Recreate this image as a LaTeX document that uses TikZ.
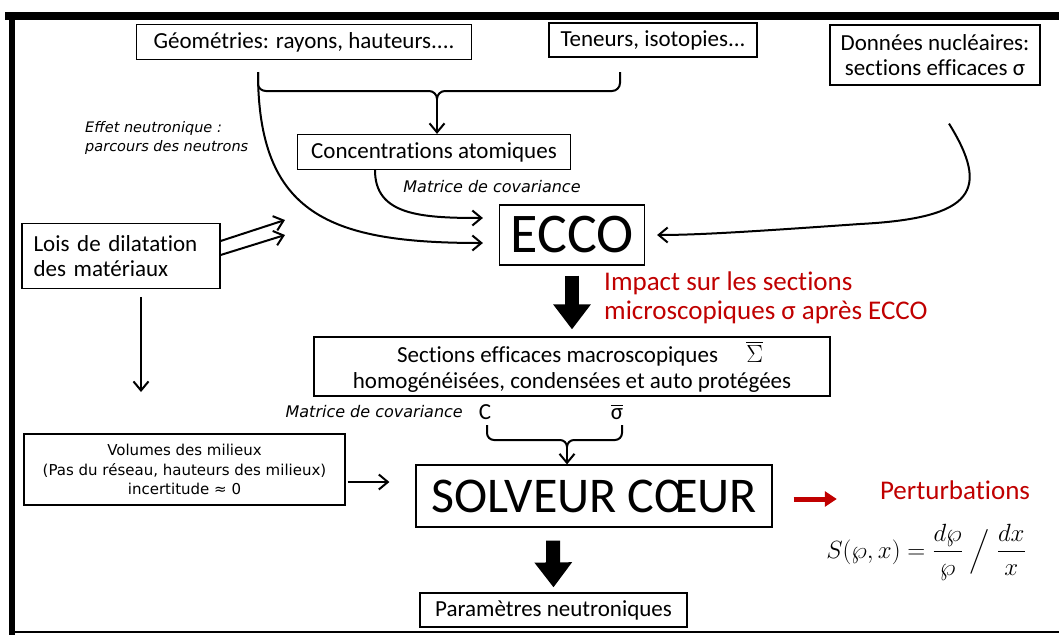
\documentclass[tikz,border=0pt]{standalone}
\usepackage{fontspec}
\usepackage{amsmath}
\setmainfont{Carlito}[Ligatures=CommonOff]
\newfontfamily\labelfont{DejaVu Sans}
\usetikzlibrary{arrows.meta, positioning}
\definecolor{impact}{HTML}{C00000}

\begin{document}
\begin{tikzpicture}[x=1pt, y=-1pt, font=\fontsize{23}{25.5}\selectfont,
    box/.style={draw, line width=1.2pt, inner sep=0pt, align=center},
    note/.style={font=\labelfont\itshape\fontsize{14.5}{19}\selectfont, align=left, inner sep=0pt},
    imp/.style={text=impact, font=\fontsize{27}{29}\selectfont, inner sep=0pt},
    flow/.style={line width=2pt, -{Straight Barb[length=9pt, width=15pt]}},
    fat/.style={line width=14pt, -{Triangle[length=25pt, width=36pt]}}]

  \useasboundingbox (0,0) rectangle (1059,635);
  % frame
  \fill (5,12) rectangle (1059,20);
  \fill (9,12) rectangle (15,635);
  \draw[line width=1.5pt] (9,632) -- (1059,632);

  % boxes
  \node[box, minimum width=335, minimum height=35] (geo) at (304,42) {Géométries: rayons, hauteurs....};
  \node[box, minimum width=208, minimum height=34] (ten) at (653,40) {Teneurs, isotopies...};
  \node[box, minimum width=210, minimum height=60] (don) at (935,55) {Données nucléaires:\\sections efficaces σ};
  \node[box, minimum width=273, minimum height=35] (conc) at (434,152) {Concentrations atomiques};
  \node[box, minimum width=145, minimum height=60, font=\fontsize{56}{60}\selectfont] (ecco) at (572,235) {ECCO};
  \node[box, minimum width=198, minimum height=58, text width=175, align=left, inner sep=11.5pt] (lois) at (121,256) {Lois de dilatation\\des matériaux};
  \node[box, minimum width=516, minimum height=59] (sec) at (572,366.5)
    {\hspace*{16pt}Sections efficaces macroscopiques \quad $\overline{\Sigma}$\\homogénéisées, condensées et auto protégées};
  \node[box, minimum width=321, minimum height=71, font=\labelfont\fontsize{15}{19.5}\selectfont] (vol) at (184.5,469.5)
    {Volumes des milieux\\(Pas du réseau, hauteurs des milieux)\\incertitude ≈ 0};
  \node[box, minimum width=356, minimum height=62, font=\fontsize{50}{54}\selectfont] (solv) at (594,496) {SOLVEUR CŒUR};
  \node[box, minimum width=267, minimum height=34] (par) at (553.5,610) {Paramètres neutroniques};

  % labels
  \node[note, anchor=west] (eff) at (85,137.5) {Effet neutronique :\\parcours des neutrons};
  \node[note, font=\labelfont\itshape\fontsize{16}{19}\selectfont] (mat1) at (492,187) {Matrice de covariance};
  \node[imp, anchor=west, align=left] (impt) at (604,298) {Impact sur les sections\\microscopiques σ après ECCO};
  \node[note, font=\labelfont\itshape\fontsize{16}{19}\selectfont, anchor=east] (mat2) at (463,412) {Matrice de covariance};
  \node[inner sep=0pt] (cC) at (485,412) {C};
  \node[inner sep=0pt] (sig) at (617,412) {$\overline{\hbox{σ}}$};
  \node[imp] (pert) at (955,490) {Perturbations};
  \node[font=\fontsize{25}{28}\selectfont, inner sep=0pt] (sens) at (926,552) {$S(\wp,x)=\dfrac{d\wp}{\wp}\;\Big/\;\dfrac{dx}{x}$};

  % brace under the inputs
  \coordinate (gl) at (258,72);
  \coordinate (tr) at (620,72);
  \coordinate (gm) at (437,99);
  \draw[line width=2pt] (gl) -- (258,84) to[out=-90,in=180] (266,91) -- (429,91) to[out=0,in=90] (gm)
    to[out=90,in=180] (445,91) -- (612,91) to[out=0,in=-90] (620,83) -- (tr);
  \draw[flow] (gm) -- (gm |- conc.north);

  % towards ECCO
  \draw[flow] (gl) .. controls (258,215) and (330,243) .. ([shift={(-16,8)}]ecco.west);
  \draw[flow] ([xshift=-59]conc.south) .. controls (375,215) and (420,218) .. ([shift={(-16,-17)}]ecco.west);
  \draw[flow] ([shift={(14,38)}]don.south) .. controls (990,190) and (975,218) .. (860,224)
    .. controls (760,231) and (700,235) .. ([xshift=12]ecco.east);
  \coordinate (dil1) at (285,220);
  \coordinate (dil2) at (285,235);
  \draw[flow] ([shift={(0,-15)}]lois.east) -- (dil1);
  \draw[flow] ([shift={(0,-1)}]lois.east) -- (dil2);
  \coordinate (vtop) at (141,392);
  \draw[flow] ([shift={(20,8)}]lois.south) -- (vtop);

  \draw[fat] ([shift={(0,10)}]ecco.south) -- ([shift={(0,-7)}]sec.north);

  % brace under C and sigma
  \coordinate (cl) at (487,425);
  \coordinate (cr) at (622,425);
  \coordinate (cm) at (567,447);
  \draw[line width=2pt] (cl) -- (487,433) to[out=-90,in=180] (494,440) -- (560,440) to[out=0,in=90] (cm)
    to[out=90,in=180] (574,440) -- (615,440) to[out=0,in=-90] (622,433) -- (cr);
  \draw[flow] (cm) -- (cm |- solv.north);

  \draw[flow] ([shift={(2,12.5)}]vol.east) -- ([shift={(-26,-14)}]solv.west);
  \draw[impact, line width=5pt, -{Triangle[length=12pt, width=15pt]}] ([shift={(21,3)}]solv.east) -- ([shift={(-43,9)}]pert.west);
  \draw[fat] ([shift={(-41,13)}]solv.south) -- ([shift={(0,-5)}]par.north);
\end{tikzpicture}
\end{document}
